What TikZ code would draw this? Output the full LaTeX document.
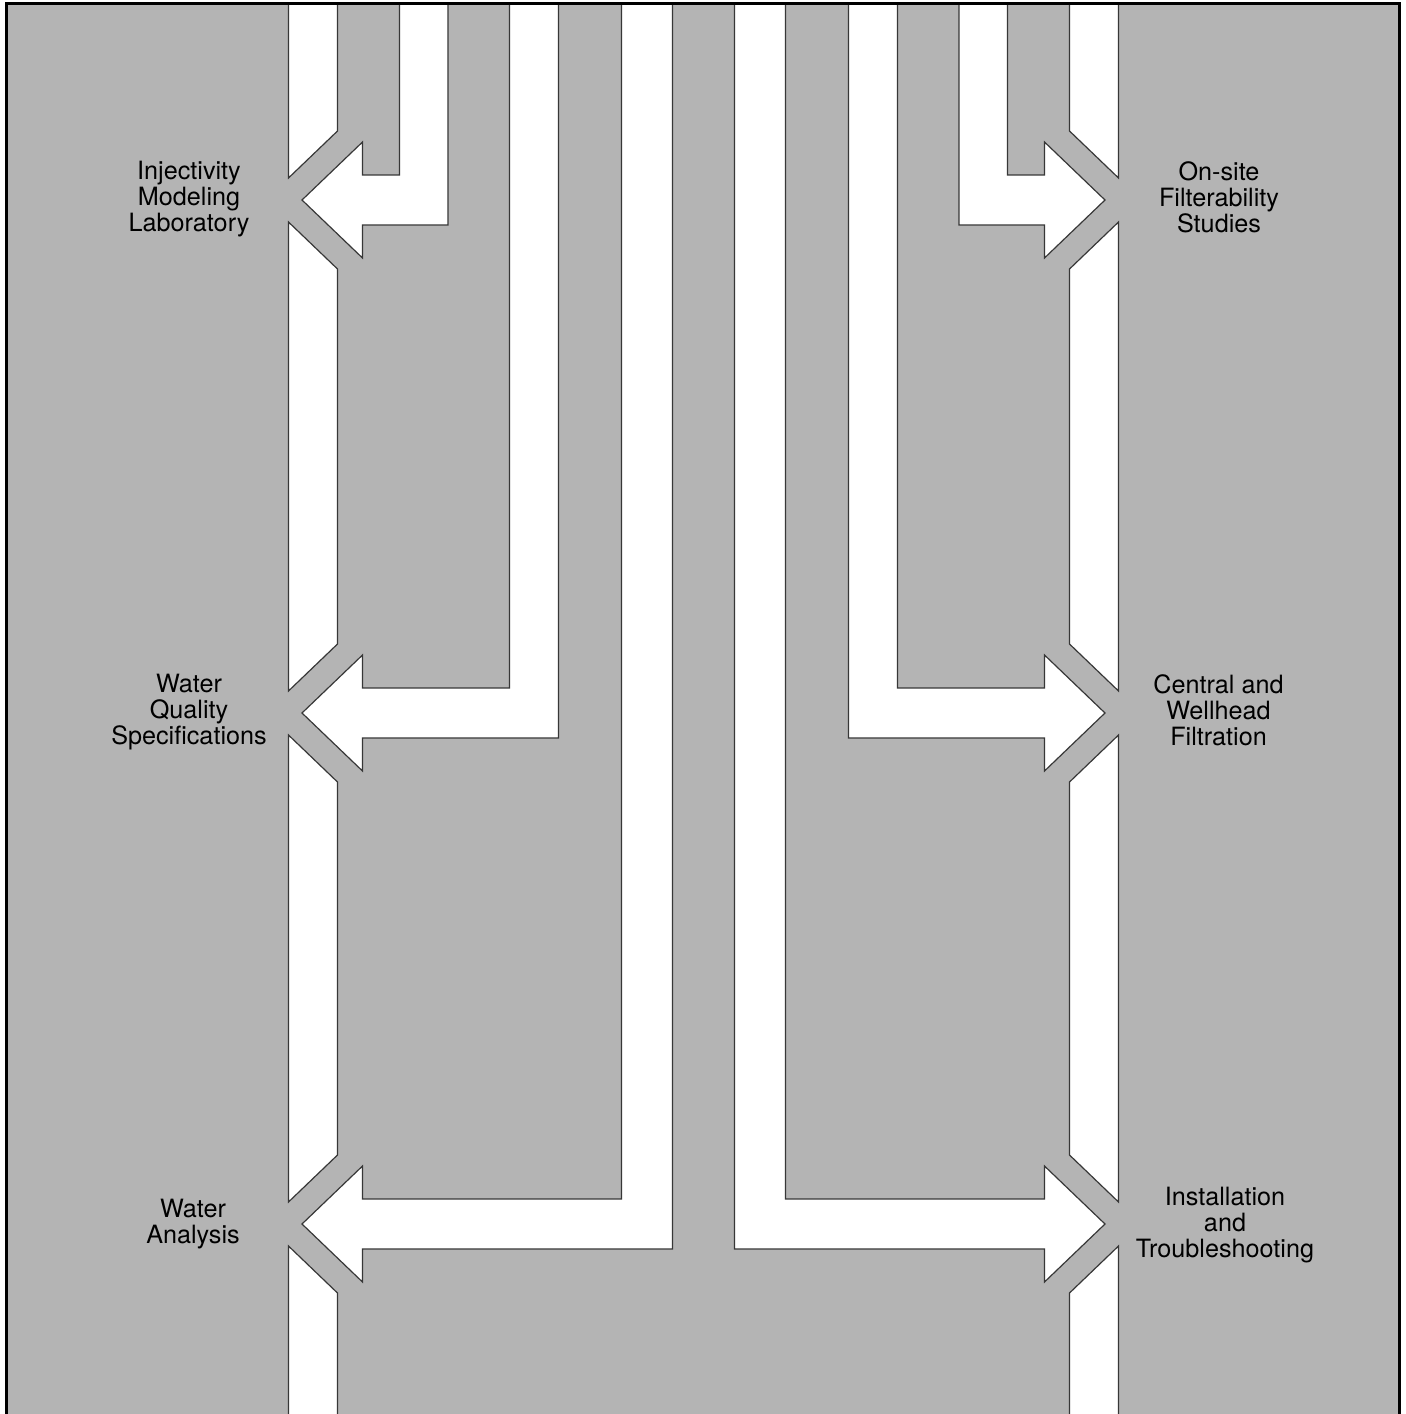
\documentclass[tikz,border=0pt]{standalone}
\usepackage{fontspec}
\setmainfont{TeX Gyre Heros}
\definecolor{stip}{RGB}{180,180,180}
\definecolor{edgec}{RGB}{55,55,55}
\begin{document}
\begin{tikzpicture}[x=0.5pt,y=-0.5pt,
  whiteshape/.style={fill=white,draw=edgec,line width=0.6pt,line join=miter},
  lab/.style={font=\fontsize{12.6}{13}\selectfont,align=center,text=black,inner sep=0pt}]
\clip (0,0) rectangle (1406,1414);
\fill[white] (0,0) rectangle (1406,1414);
\fill[stip] (6.5,3.5) rectangle (1399,1430);
\foreach \s in {-1,1} {
  % outer white strip, cut by the bands round the arrow heads
  \filldraw[whiteshape] ({703.5+\s*366},3.5) -- ({703.5+\s*415},3.5) -- ({703.5+\s*415},178) -- ({703.5+\s*366},131) -- cycle;
  \foreach \ya/\yb in {200/713,713/1224} {
    \filldraw[whiteshape] ({703.5+\s*415},{\ya+22}) -- ({703.5+\s*366},{\ya+69}) -- ({703.5+\s*366},{\yb-69}) -- ({703.5+\s*415},{\yb-22}) -- cycle;
  }
  \filldraw[whiteshape] ({703.5+\s*415},1246) -- ({703.5+\s*366},1293) -- ({703.5+\s*366},1430) -- ({703.5+\s*415},1430) -- cycle;
  % L-shaped pipes ending in arrows
  \foreach \cy/\n/\f in {200/255.5/304,713/145/194,1224/31/82} {
    \filldraw[whiteshape] ({703.5+\s*\f},3.5) -- ({703.5+\s*\n},3.5) -- ({703.5+\s*\n},{\cy+25}) -- ({703.5+\s*341},{\cy+25}) -- ({703.5+\s*341},{\cy+58}) -- ({703.5+\s*401.5},\cy) -- ({703.5+\s*341},{\cy-58}) -- ({703.5+\s*341},{\cy-25}) -- ({703.5+\s*\f},{\cy-25}) -- cycle;
  }
}
% frame
\draw[black,line width=1.5pt] (6.5,1430) -- (6.5,3.5) -- (1399,3.5) -- (1399,1430);
% labels
\node[lab] (l1) at (189,199) {Injectivity\\Modeling\\Laboratory};
\node[lab] (l2) at (189,712) {Water\\Quality\\Specifications};
\node[lab] (l3) at (193,1224) {Water\\Analysis};
\node[lab] (r1) at (1219,197) {On-site\\Filterability\\Studies};
\node[lab] (r2) at (1218.5,710) {Central and\\Wellhead\\Filtration};
\node[lab] (r3) at (1225,1225) {Installation\\and\\Troubleshooting};
\end{tikzpicture}
\end{document}
